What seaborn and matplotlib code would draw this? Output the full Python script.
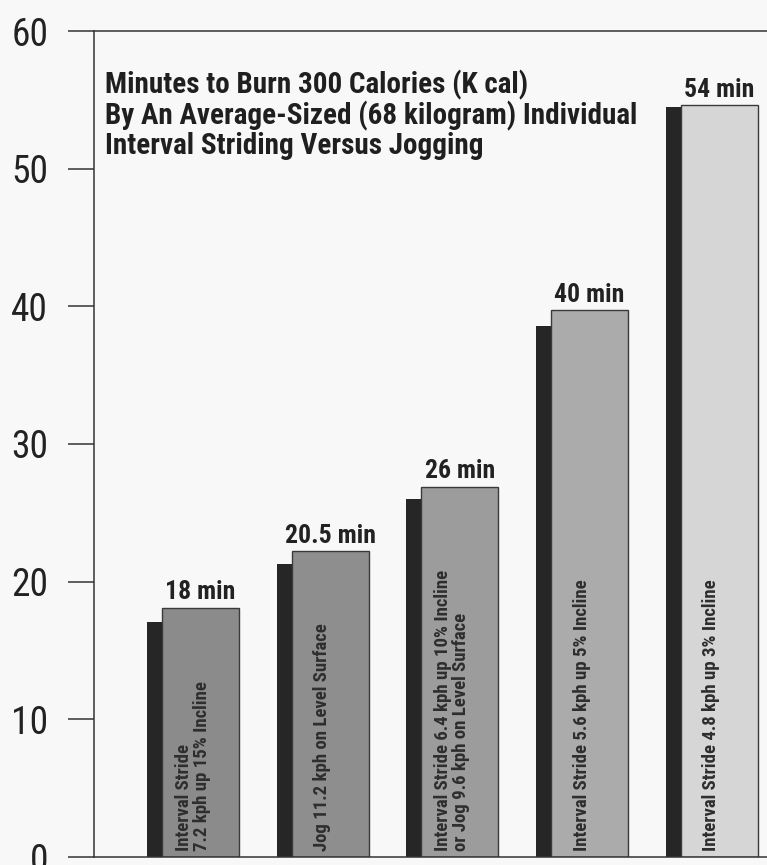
import matplotlib
matplotlib.use("Agg")
import numpy as np
import pandas as pd
import seaborn as sns
import matplotlib.pyplot as plt

# values
activities = [
    "Interval Stride\n7.2 kph up 15% Incline",
    "Jog 11.2 kph on Level Surface",
    "Interval Stride 6.4 kph up 10% Incline\nor Jog 9.6 kph on Level Surface",
    "Interval Stride 5.6 kph up 5% Incline",
    "Interval Stride 4.8 kph up 3% Incline",
]
minute_labels = ["18 min", "20.5 min", "26 min", "40 min", "54 min"]
front_height = [18.1, 22.2, 26.9, 39.7, 54.6]
shadow_height = [17.1, 21.3, 26.0, 38.6, 54.5]
bar_colors = ["#8b8b8b", "#8e8e8e", "#9c9c9c", "#ababab", "#d6d6d6"]
y_ticks = [0, 10, 20, 30, 40, 50, 60]

title = ("Minutes to Burn 300 Calories (K cal)\n"
         "By An Average-Sized (68 kilogram) Individual\n"
         "Interval Striding Versus Jogging")

sns.set_style("white")
plt.rcParams["font.family"] = ["Roboto Condensed", "DejaVu Sans"]

df = pd.DataFrame({"activity": activities, "front": front_height,
                   "shadow": shadow_height})

fig = plt.figure(figsize=(7.67, 8.65), dpi=100, facecolor="#f8f8f8")
ax = fig.add_axes([94 / 767, 8 / 865, 1 - 94 / 767, 826 / 865])
ax.set_facecolor("#f8f8f8")

bar_w = 0.594
shift = 0.116

# dark "shadow" bars, pushed a little to the left
sns.barplot(data=df, x="activity", y="shadow", color="#262626", width=bar_w,
            saturation=1, edgecolor="none", ax=ax)
for p in ax.patches:
    p.set_x(p.get_x() - shift)

sns.barplot(data=df, x="activity", y="front", hue="activity",
            palette=bar_colors, width=bar_w, saturation=1, legend=False,
            edgecolor="#3a3a3a", linewidth=1.0, ax=ax)

for i, (lab, h, txt) in enumerate(zip(minute_labels, front_height, activities)):
    ax.text(i, h + 0.25, lab, ha="center", va="bottom", fontsize=18.5,
            fontweight="bold", color="#222222")
    ax.text(i - 0.06, 0.45, txt, rotation=90, rotation_mode="anchor",
            ha="left", va="center", fontsize=13.5, fontweight="bold",
            color="#2e2e2e", linespacing=1.0, multialignment="left")

ax.text((105 - 94) / 673, (857 - 70) / 826, title, transform=ax.transAxes,
        ha="left", va="top", fontsize=21, fontweight="bold",
        color="#1f1f1f", linespacing=1.05)

ax.set_xlim(-0.822, 4.37)
ax.set_ylim(0, 60)
ax.set_yticks(y_ticks)
ax.set_xticks([])
ax.set_xlabel("")
ax.set_ylabel("")
ax.tick_params(axis="y", left=True, direction="out", length=19, width=1.1,
               color="#333333", pad=14, labelsize=27, labelcolor="#222222")

for side in ["left", "top", "bottom"]:
    ax.spines[side].set_visible(True)
    ax.spines[side].set_color("#333333")
    ax.spines[side].set_linewidth(1.1)
ax.spines["right"].set_visible(False)

plt.savefig("out.png", dpi=100, facecolor=fig.get_facecolor())
plt.close()
